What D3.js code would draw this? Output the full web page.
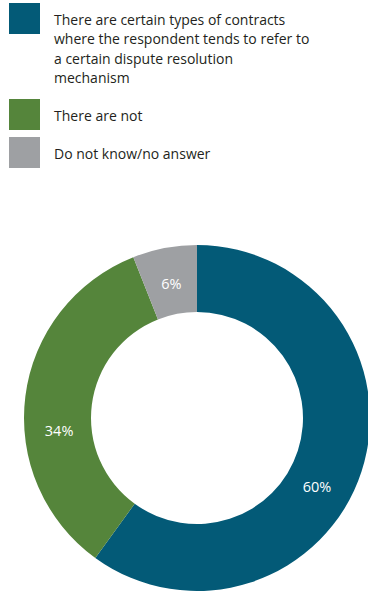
<!DOCTYPE html>
<html>
<head>
<meta charset="utf-8">
<script src="https://cdn.jsdelivr.net/npm/d3@7"></script>
<style>
  html, body { margin: 0; padding: 0; background: #fff; }
  svg { display: block; }
</style>
</head>
<body>
<svg id="chart" width="368" height="591"></svg>
<script>
// Answer categories, their shares (%) and colours
const categories = [
  "There are certain types of contracts where the respondent tends to refer to a certain dispute resolution mechanism",
  "There are not",
  "Do not know/no answer"
];
const legendLines = [
  ["There are certain types of contracts", "where the respondent tends to refer to", "a certain dispute resolution", "mechanism"],
  ["There are not"],
  ["Do not know/no answer"]
];
const values = [60, 34, 6];
const valueLabels = ["60%", "34%", "6%"];
const colors = ["#035a77", "#55853b", "#9ea0a3"];

const svg = d3.select("#chart");
const font = "'Open Sans', 'Noto Sans', sans-serif";

// ---- legend ----
const legendTop = [3, 99, 137];
const legend = svg.append("g");
legendLines.forEach((lines, i) => {
  const g = legend.append("g").attr("transform", `translate(9,${legendTop[i]})`);
  g.append("rect").attr("width", 31).attr("height", 31).attr("fill", colors[i]);
  const t = g.append("text")
    .attr("x", 45).attr("y", 22)
    .attr("font-family", font).attr("font-size", 14)
    .attr("fill", "#231f20");
  lines.forEach((ln, j) => {
    t.append("tspan").attr("x", 45).attr("dy", j === 0 ? 0 : 19.3).text(ln);
  });
});

// ---- donut ----
const cx = 197, cy = 418, outerR = 173, innerR = 106;
const data = categories.map((c, i) => ({ name: c, value: values[i], label: valueLabels[i], color: colors[i] }));

const pie = d3.pie().value(d => d.value).sort(null);
const arcs = pie(data);
const arc = d3.arc().innerRadius(innerR).outerRadius(outerR);

const donut = svg.append("g").attr("transform", `translate(${cx},${cy})`);
donut.selectAll("path").data(arcs).join("path")
  .attr("d", arc)
  .attr("fill", d => d.data.color);

// value labels sit in the ring, nudged along the arc toward the larger slice boundary
const midR = (innerR + outerR) / 2;
const nudge = [12, -12.5, 0].map(a => a * Math.PI / 180);
donut.selectAll("text.val").data(arcs).join("text")
  .attr("class", "val")
  .attr("transform", (d, i) => {
    const a = (d.startAngle + d.endAngle) / 2 + nudge[i];
    const r = i === 2 ? midR - 3 : midR - 1;
    return `translate(${r * Math.sin(a)},${-r * Math.cos(a)})`;
  })
  .attr("text-anchor", "middle")
  .attr("dy", "0.35em")
  .attr("font-family", font).attr("font-size", 14.5)
  .attr("fill", "#ffffff")
  .text(d => d.data.label);
</script>
</body>
</html>
